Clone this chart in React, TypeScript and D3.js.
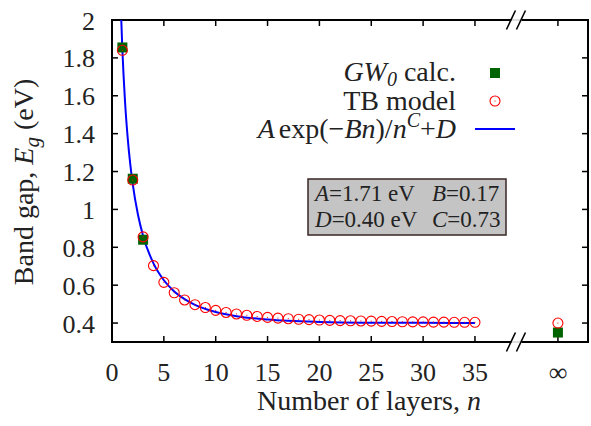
import React from 'react';
import * as d3 from 'd3';

// number of layers and band gaps (eV)
const layers = [1, 2, 3, 4, 5, 6, 7, 8, 9, 10, 11, 12, 13, 14, 15, 16, 17, 18, 19, 20, 21, 22, 23, 24, 25, 26, 27, 28, 29, 30, 31, 32, 33, 34, 35];
const tbGap = [1.84, 1.155, 0.855, 0.703, 0.615, 0.56, 0.522, 0.497, 0.482, 0.467, 0.456, 0.448, 0.441, 0.435, 0.43, 0.426, 0.423, 0.42, 0.418, 0.416, 0.414, 0.413, 0.412, 0.411, 0.41, 0.409, 0.408, 0.407, 0.406, 0.406, 0.405, 0.405, 0.404, 0.404, 0.404];
const gwLayers = [1, 2, 3];
const gwGap = [1.855, 1.162, 0.84];
const tbBulk = 0.4;
const gwBulk = 0.35;

// fitted curve A exp(-Bn)/n^C + D, sampled
const fitN = [0.85, 1, 1.25, 1.5, 1.75, 2, 2.5, 3, 4, 5, 6, 7, 8, 10, 12, 15, 20, 25, 30, 35];
const fitGap = [2.066, 1.843, 1.575, 1.386, 1.244, 1.134, 0.973, 0.86, 0.715, 0.626, 0.567, 0.526, 0.496, 0.458, 0.436, 0.4185, 0.406, 0.402, 0.401, 0.4003];

const xTicks = [0, 5, 10, 15, 20, 25, 30, 35];
const yTicks = [0.4, 0.6, 0.8, 1, 1.2, 1.4, 1.6, 1.8, 2];
const bulkPos = 43; // where the "infinity" column sits on the x scale
const breakPos = 39;

const W = 591, H = 426;
const L = 112, R = 588, T = 20, B = 342;
const serif = { fontFamily: 'Liberation Serif' };

export default function App() {
  const x = d3.scaleLinear().domain([0, 45.9]).range([L, R]);
  const y = d3.scaleLinear().domain([0.3, 2]).range([B, T]);

  const line = d3.line<number>()
    .x((d, i) => x(fitN[i]))
    .y(d => y(d))
    .curve(d3.curveMonotoneX);

  const xb = x(breakPos);
  const gap = 5;
  const slash = (cx, cy) => (
    <g>
      <line x1={cx - gap - 5} y1={cy + 9.5} x2={cx - gap + 4} y2={cy - 9.5} stroke="#000" strokeWidth={1.6} />
      <line x1={cx + gap - 5} y1={cy + 9.5} x2={cx + gap + 4} y2={cy - 9.5} stroke="#000" strokeWidth={1.6} />
    </g>
  );

  const allTickX = [...xTicks.map(t => x(t)), x(bulkPos)];

  const circle = (cx, cy, key) => (
    <g key={key}>
      <circle cx={cx} cy={cy} r={5} fill="none" stroke="#ff0000" strokeWidth={1.1} />
      <rect x={cx - 0.5} y={cy - 0.5} width={1} height={1} fill="#ff0000" />
    </g>
  );

  return (
    <svg width={W} height={H} style={{ position: 'absolute', left: 0, top: 0, background: '#fff' }}>
      <defs>
        <clipPath id="plot">
          <rect x={L} y={T} width={R - L} height={B - T} />
        </clipPath>
      </defs>

      {/* frame pieces, broken at the gap */}
      <g stroke="#000" strokeWidth={2} fill="none">
        <line x1={L} y1={B} x2={xb - gap} y2={B} />
        <line x1={xb + gap} y1={B} x2={R} y2={B} />
        <line x1={L} y1={T} x2={xb - gap} y2={T} />
        <line x1={xb + gap} y1={T} x2={R} y2={T} />
        <line x1={L} y1={T - 1} x2={L} y2={B + 1} />
        <line x1={R} y1={T - 1} x2={R} y2={B + 1} />
      </g>
      <line x1={xb - gap} y1={B} x2={xb + gap} y2={B} stroke="#bbb" strokeWidth={1} />
      <line x1={xb - gap} y1={T} x2={xb + gap} y2={T} stroke="#bbb" strokeWidth={1} />
      {slash(xb, B)}
      {slash(xb, T)}

      {/* ticks */}
      <g stroke="#000" strokeWidth={1.5}>
        {allTickX.map((tx, i) => (
          <g key={'xt' + i}>
            <line x1={tx} y1={B} x2={tx} y2={B - 6} />
            <line x1={tx} y1={T} x2={tx} y2={T + 6} />
          </g>
        ))}
        {yTicks.map((t, i) => (
          <g key={'yt' + i}>
            <line x1={L} y1={y(t)} x2={L + 6} y2={y(t)} />
            <line x1={R} y1={y(t)} x2={R - 6} y2={y(t)} />
          </g>
        ))}
      </g>

      {/* tick labels */}
      {xTicks.map((t, i) => (
        <text key={'xl' + i} x={x(t)} y={381} textAnchor="middle" fontSize={26} fill="#222" style={serif}>{t}</text>
      ))}
      <text x={x(bulkPos)} y={381} textAnchor="middle" fontSize={26} fill="#222" style={serif}>∞</text>
      {yTicks.map((t, i) => (
        <text key={'yl' + i} x={95} y={y(t) + 9.5} textAnchor="end" fontSize={26} fill="#222" style={serif}>{t}</text>
      ))}

      {/* axis titles */}
      <text x={369} y={410} fontSize={28} textAnchor="middle" fill="#222" style={serif}>
        Number of layers, <tspan fontStyle="italic">n</tspan>
      </text>
      <text transform={`translate(33,182) rotate(-90)`} fontSize={28} textAnchor="middle" fill="#222" style={serif}>
        Band gap, <tspan fontStyle="italic">E</tspan><tspan fontStyle="italic" fontSize={21} dy={6}>g</tspan><tspan dy={-6}> (eV)</tspan>
      </text>

      {/* data */}
      <g clipPath="url(#plot)">
        <path d={line(fitGap) || ''} fill="none" stroke="#0000ff" strokeWidth={2} />
        {gwLayers.map((n, i) => (
          <rect key={'gw' + i} x={x(n) - 5} y={y(gwGap[i]) - 5} width={10} height={10} fill="#006400" />
        ))}
        <rect x={x(bulkPos) - 5} y={y(gwBulk) - 5} width={10} height={10} fill="#006400" />
        {layers.map((n, i) => circle(x(n), y(tbGap[i]), 'tb' + i))}
        {circle(x(bulkPos), y(tbBulk), 'tbinf')}
      </g>

      {/* legend */}
      <text x={456} y={81} fontSize={28} fill="#222" textAnchor="end" style={serif}>
        <tspan fontStyle="italic">GW</tspan><tspan fontStyle="italic" fontSize={20} dy={5}>0</tspan><tspan dy={-5}> calc.</tspan>
      </text>
      <text x={456} y={110} fontSize={28} fill="#222" textAnchor="end" style={serif}>TB model</text>
      <text x={456} y={138} fontSize={28} fill="#222" textAnchor="end" style={serif}>
        <tspan fontStyle="italic">A</tspan><tspan dx={4}>exp(−</tspan><tspan fontStyle="italic">Bn</tspan>)/<tspan fontStyle="italic">n</tspan><tspan fontStyle="italic" fontSize={20} dy={-11}>C</tspan><tspan dy={11}>+</tspan><tspan fontStyle="italic">D</tspan>
      </text>
      <rect x={490} y={68} width={10} height={10} fill="#006400" />
      {circle(495, 101, 'legc')}
      <line x1={475} y1={129} x2={515} y2={129} stroke="#0000ff" strokeWidth={2} />

      {/* parameter box */}
      <rect x={308} y={179} width={198} height={56} fill="#c4c4c4" stroke="#3a2626" strokeWidth={1.5} />
      <text x={315} y={201} fontSize={23} fill="#222" style={serif}><tspan fontStyle="italic">A</tspan>=1.71 eV</text>
      <text x={432} y={201} fontSize={23} fill="#222" style={serif}><tspan fontStyle="italic">B</tspan>=0.17</text>
      <text x={315} y={227} fontSize={23} fill="#222" style={serif}><tspan fontStyle="italic">D</tspan>=0.40 eV</text>
      <text x={432} y={227} fontSize={23} fill="#222" style={serif}><tspan fontStyle="italic">C</tspan>=0.73</text>
    </svg>
  );
}
